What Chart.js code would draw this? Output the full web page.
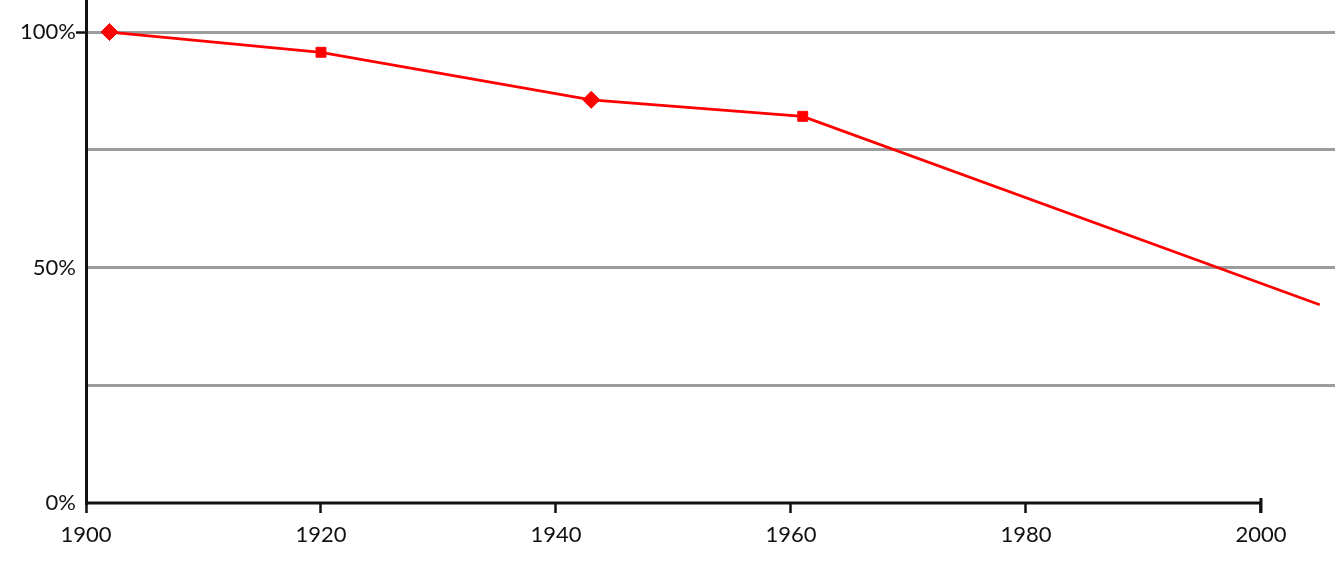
<!DOCTYPE html>
<html>
<head>
<meta charset="utf-8">
<script src="https://cdn.jsdelivr.net/npm/chart.js@4.4.0/dist/chart.umd.min.js"></script>
<style>
  html, body { margin: 0; padding: 0; background: #fff; }
  #wrap { width: 1335px; height: 575px; }
</style>
</head>
<body>
<div id="wrap"><canvas id="shareChart"></canvas></div>
<script>
  // values
  var years = [1902, 1920, 1943, 1961, 2005];
  var shares = [100, 95.7, 85.6, 82.1, 42.1];

  var xTicks = [1900, 1920, 1940, 1960, 1980, 2000];
  var yTicks = [0, 25, 50, 75, 100];
  var yLabeled = [0, 50, 100];

  // x axis only runs from the first to the last tick, with a cap at the end
  var xAxisLine = {
      id: 'xAxisLine',
      beforeDatasetsDraw: function(chart) {
          var xs = chart.scales.x, ys = chart.scales.y, ctx = chart.ctx;
          var y0 = ys.getPixelForValue(0);
          var x0 = xs.getPixelForValue(xTicks[0]);
          var x1 = xs.getPixelForValue(xTicks[xTicks.length - 1]);
          ctx.save();
          ctx.strokeStyle = '#111';
          ctx.lineWidth = 3;
          ctx.beginPath();
          ctx.moveTo(x0, y0);
          ctx.lineTo(x1, y0);
          ctx.moveTo(x1, y0 - 5);
          ctx.lineTo(x1, y0 + 10);
          ctx.stroke();
          ctx.restore();
      }
  };

  var labelFont = { family: 'Lato', size: 22 };

  var shareChart = new Chart(document.getElementById('shareChart').getContext('2d'), {
      type: 'line',
      data: {
          datasets: [{
              data: years.map(function(yr, i) { return { x: yr, y: shares[i] }; }),
              borderColor: '#ff0000',
              borderWidth: 2.8,
              tension: 0,
              pointStyle: ['rectRot', 'rect', 'rectRot', 'rect', 'circle'],
              pointRadius: [8.5, 7, 8.5, 7, 0],
              pointBackgroundColor: '#ff0000',
              pointBorderColor: '#ff0000',
              pointBorderWidth: 1,
              clip: false
          }]
      },
      options: {
          responsive: true,
          maintainAspectRatio: false,
          animation: false,
          layout: { padding: 0, autoPadding: false },
          plugins: {
              legend: { display: false },
              tooltip: { enabled: false }
          },
          scales: {
              x: {
                  type: 'linear',
                  min: 1900,
                  max: 2006.3,
                  afterBuildTicks: function(s) {
                      s.ticks = xTicks.map(function(v) { return { value: v }; });
                  },
                  afterFit: function(s) {
                      s.height = 72;
                      s.paddingLeft = 0;
                      s.paddingRight = 0;
                  },
                  border: { display: false },
                  grid: {
                      drawOnChartArea: false,
                      drawTicks: true,
                      tickLength: 10,
                      tickColor: '#111',
                      tickWidth: 2.5
                  },
                  ticks: {
                      color: '#111',
                      font: labelFont,
                      padding: 9,
                      maxRotation: 0,
                      autoSkip: false,
                      callback: function(v) { return String(v); }
                  }
              },
              y: {
                  min: 0,
                  max: 106.8,
                  afterBuildTicks: function(s) {
                      s.ticks = yTicks.map(function(v) { return { value: v }; });
                  },
                  afterFit: function(s) {
                      s.width = 86;
                      s.paddingTop = 0;
                      s.paddingBottom = 0;
                  },
                  border: { display: true, color: '#111', width: 3 },
                  grid: {
                      color: function(c) { return c.tick && c.tick.value === 0 ? 'rgba(0,0,0,0)' : '#9c9c9c'; },
                      lineWidth: 3,
                      drawTicks: true,
                      tickLength: 10,
                      tickColor: function(c) { return c.tick && c.tick.value === 100 ? '#111' : 'rgba(0,0,0,0)'; },
                      tickWidth: 2.5
                  },
                  ticks: {
                      color: '#111',
                      font: labelFont,
                      padding: 0,
                      callback: function(v) { return yLabeled.indexOf(v) >= 0 ? v + '%' : ''; }
                  }
              }
          }
      },
      plugins: [xAxisLine]
  });
</script>
</body>
</html>
